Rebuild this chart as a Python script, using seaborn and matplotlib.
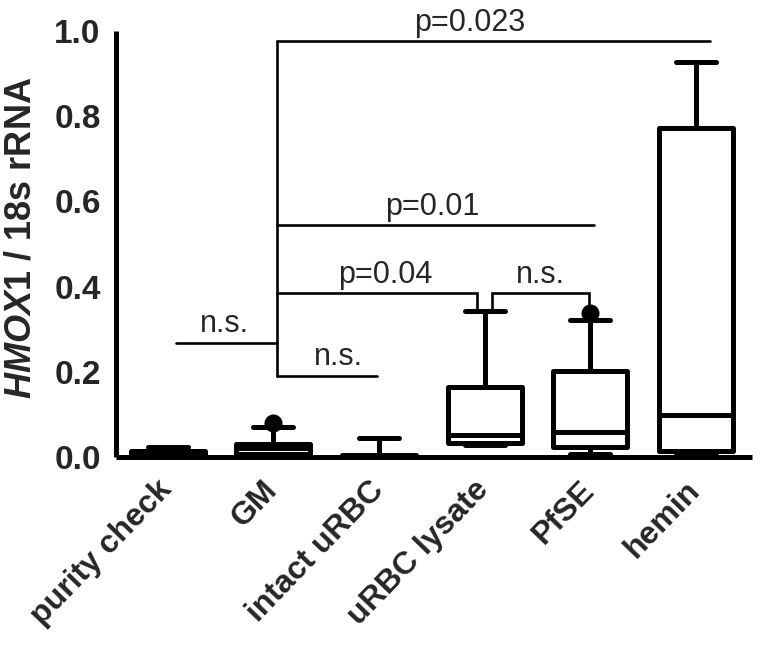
import numpy as np
import pandas as pd
import matplotlib
matplotlib.use("Agg")
import matplotlib.pyplot as plt
import matplotlib.transforms as mtransforms
import seaborn as sns

# ---- data ----
categories = ["purity check", "GM", "intact uRBC", "uRBC lysate", "PfSE", "hemin"]
whisker_low = [0.000, 0.000, 0.000, 0.027, 0.008, 0.005]
q1_vals = [0.003, 0.006, 0.001, 0.034, 0.024, 0.014]
median_vals = [0.008, 0.021, 0.002, 0.051, 0.059, 0.099]
q3_vals = [0.015, 0.030, 0.004, 0.164, 0.203, 0.773]
whisker_high = [0.024, 0.070, 0.045, 0.343, 0.322, 0.927]
outlier_cats = ["GM", "PfSE", "hemin"]
outlier_vals = [0.080, 0.338, 0.008]
yticks = [0.0, 0.2, 0.4, 0.6, 0.8, 1.0]
ylabel = r"$\mathit{HMOX1}$ / 18s rRNA"

# significance annotations: (x1, x2, y, left drop to, right drop to, label, label x, label y)
brackets = [
    (1.03, 5.13, 0.977, None, None, "p=0.023", 2.86, 1.000),
    (1.03, 4.03, 0.544, None, None, "p=0.01", 2.50, 0.567),
    (1.03, 2.93, 0.384, None, 0.346, "p=0.04", 2.06, 0.409),
    (3.07, 3.99, 0.384, 0.346, 0.341, "n.s.", 3.53, 0.409),
    (0.08, 1.03, 0.268, None, None, "n.s.", 0.54, 0.293),
    (1.03, 1.98, 0.190, None, None, "n.s.", 1.62, 0.215),
]
main_vertical = (1.03, 0.190, 0.977)

# five values per group -> quartiles reproduced exactly with whis=(0, 100)
rows = []
for c, a, b, m, d, e in zip(categories, whisker_low, q1_vals, median_vals, q3_vals, whisker_high):
    for v in (a, b, m, d, e):
        rows.append({"group": c, "value": v})
df = pd.DataFrame(rows)
out_df = pd.DataFrame({"group": outlier_cats, "value": outlier_vals})

sns.set_style("white")
plt.rcParams["font.family"] = ["Liberation Sans", "DejaVu Sans"]
plt.rcParams["mathtext.fontset"] = "custom"
plt.rcParams["mathtext.it"] = "Liberation Sans:italic:bold"
plt.rcParams["mathtext.rm"] = "Liberation Sans:bold"

fig = plt.figure(figsize=(7.63, 6.47), dpi=100)
ax = fig.add_axes([116 / 763, 1 - 457 / 647, (752 - 116) / 763, (457 - 31) / 647])

sns.stripplot(data=out_df, x="group", y="value", order=categories, jitter=False,
              color="black", size=13, ax=ax, zorder=1.5, linewidth=0)

sns.boxplot(data=df, x="group", y="value", order=categories, whis=(0, 100),
            width=0.7, color="white", linecolor="black", linewidth=3.6,
            fliersize=0, ax=ax, capwidths=0.38,
            boxprops=dict(joinstyle="round"),
            capprops=dict(solid_capstyle="round"))

for ln in ax.lines:
    ln.set_zorder(3)
    ln.set_clip_on(False)
for p in ax.patches:
    p.set_clip_on(False)

# brackets
lw_b = 1.9
x0, yb, yt = main_vertical
ax.plot([x0, x0], [yb, yt], color="black", lw=lw_b, clip_on=False, zorder=4)
for x1, x2, y, dl, dr, lab, lx, ly in brackets:
    xs, ys = [x1, x2], [y, y]
    if dl is not None:
        xs = [x1] + xs
        ys = [dl] + ys
    if dr is not None:
        xs = xs + [x2]
        ys = ys + [dr]
    ax.plot(xs, ys, color="black", lw=lw_b, clip_on=False, zorder=4,
            solid_joinstyle="miter")
    ax.text(lx, ly, lab, ha="center", va="baseline", fontsize=22, clip_on=False)

for s in ["top", "right"]:
    ax.spines[s].set_visible(False)
for s in ["left", "bottom"]:
    ax.spines[s].set_linewidth(3.6)
    ax.spines[s].set_color("black")
    ax.spines[s].set_capstyle("butt")
    ax.spines[s].set_zorder(3.5)
ax.tick_params(axis="both", direction="out", length=9, width=3.0, color="black", pad=2)
ax.tick_params(axis="x", pad=4)

ax.set_xlim(-0.49, 5.53)
ax.set_ylim(0, 1.0)
ax.set_yticks(yticks)
ax.set_yticklabels([f"{t:.1f}" for t in yticks], fontsize=24, fontweight="bold")
ax.set_xticks(range(len(categories)))
ax.set_xticklabels(categories, rotation=46, ha="right", rotation_mode="anchor",
                   fontsize=23, fontweight="bold")
shift = mtransforms.ScaledTranslation(-11 / 100, 0, fig.dpi_scale_trans)
for lbl in ax.get_xticklabels():
    lbl.set_transform(lbl.get_transform() + shift)
ax.set_xlabel("")
ax.set_ylabel(ylabel, fontsize=26, fontweight="bold")
ax.yaxis.set_label_coords(-0.122, 0.515)

fig.savefig("out.png", dpi=100)
